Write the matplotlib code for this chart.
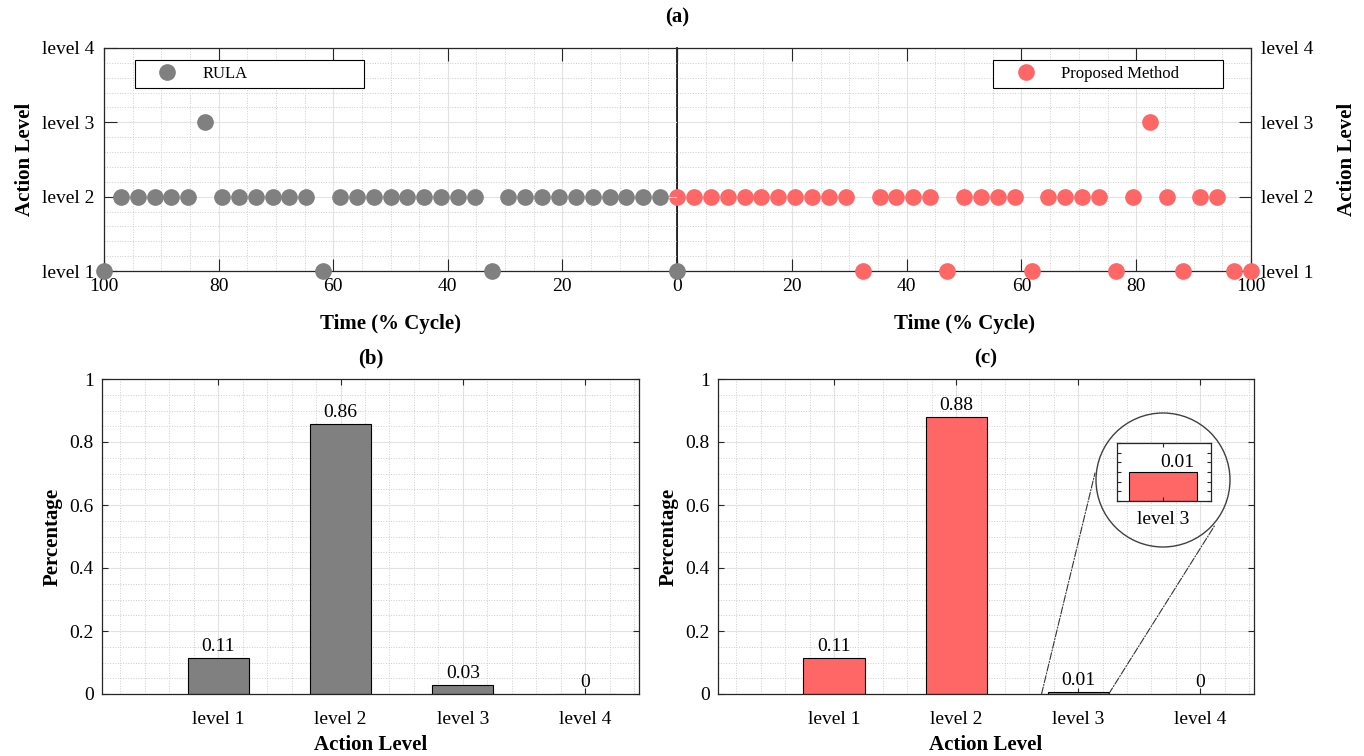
import matplotlib
matplotlib.use("Agg")
import matplotlib.pyplot as plt
from matplotlib.patches import Circle, ConnectionPatch
from matplotlib.ticker import MultipleLocator

plt.rcParams['font.family'] = ['Liberation Serif', 'DejaVu Serif']

# sampled cycle positions (% of cycle)
time_pct = [0, 2.94, 5.88, 8.82, 11.76, 14.71, 17.65, 20.59, 23.53, 26.47,
            29.41, 32.35, 35.29, 38.24, 41.18, 44.12, 47.06, 50.0, 52.94, 55.88,
            58.82, 61.76, 64.71, 67.65, 70.59, 73.53, 76.47, 79.41, 82.35, 85.29,
            88.24, 91.18, 94.12, 97.06, 100]
rula_level = [1, 2, 2, 2, 2, 2, 2, 2, 2, 2, 2, 1, 2, 2, 2, 2, 2, 2, 2, 2,
              2, 1, 2, 2, 2, 2, 2, 2, 3, 2, 2, 2, 2, 2, 1]
proposed_level = [2, 2, 2, 2, 2, 2, 2, 2, 2, 2, 2, 1, 2, 2, 2, 2, 1, 2, 2, 2,
                  2, 1, 2, 2, 2, 2, 1, 2, 3, 2, 1, 2, 2, 1, 1]

level_names = ['level 1', 'level 2', 'level 3', 'level 4']
rula_share = [0.114, 0.857, 0.029, 0.0]
proposed_share = [0.114, 0.88, 0.006, 0.0]

GRAY = '#808080'
RED = '#ff6666'
AXC = '#262626'
W, H = 1364, 756

fig = plt.figure(figsize=(W / 100, H / 100), dpi=100)


def px_axes(x0, y0, x1, y1):
    # axes box given in pixel coordinates of the final image
    return fig.add_axes([x0 / W, 1 - y1 / H, (x1 - x0) / W, (y1 - y0) / H])


def style(ax, ticklen):
    ax.set_axisbelow(True)
    ax.grid(True, which='major', color='#e2e2e2', lw=0.8)
    ax.grid(True, which='minor', color='#cdcdcd', lw=0.7, ls=':')
    ax.tick_params(which='major', direction='in', length=ticklen, width=0.8,
                   color=AXC, labelsize=14, top=True, right=True)
    ax.tick_params(which='minor', length=0)
    for s in ax.spines.values():
        s.set_color(AXC)
        s.set_linewidth(0.9)


def fmt(v):
    return '0' if v == 0 else f'{v:.2f}'


# ---- (a) time series ----
ax_l = px_axes(104, 48, 677, 271)
ax_r = px_axes(677, 48, 1251, 271)
for ax, lev, col, name in [(ax_l, rula_level, GRAY, 'RULA'),
                           (ax_r, proposed_level, RED, 'Proposed Method')]:
    style(ax, 9)
    ax.patch.set_alpha(0)
    ax.plot(time_pct, lev, 'o', ls='none', ms=11, color=col, mec=col,
            clip_on=False, zorder=3, label=name)
    ax.set_xlim(0, 100)
    ax.set_ylim(1, 4)
    ax.set_xticks(range(0, 101, 20))
    ax.xaxis.set_minor_locator(MultipleLocator(5))
    ax.set_yticks([1, 2, 3, 4])
    ax.set_yticklabels(level_names)
    ax.yaxis.set_minor_locator(MultipleLocator(0.2))
    ax.tick_params(axis='x', pad=5)
    ax.tick_params(axis='y', pad=7)
    ax.set_xlabel('Time (% Cycle)', fontsize=15, fontweight='bold', labelpad=14)
    ax.set_ylabel('Action Level', fontsize=15, fontweight='bold', labelpad=5)
    ax.legend(loc='upper left', mode='expand', borderaxespad=0, fontsize=12,
              fancybox=False, edgecolor='black', framealpha=1,
              handlelength=3.2, handletextpad=0.5,
              borderpad=0.35).get_frame().set_linewidth(0.8)

ax_l.set_zorder(1)
ax_l.invert_xaxis()
ax_l.tick_params(axis='y', right=False)
ax_l.spines['right'].set_visible(False)
ax_l.get_legend().set_bbox_to_anchor((0.054, 0.834, 0.399, 0.112),
                                     transform=ax_l.transAxes)

ax_r.set_xticklabels(['', '20', '40', '60', '80', '100'])
ax_r.yaxis.tick_right()
ax_r.tick_params(axis='y', left=False, right=True, labelleft=False, labelright=True)
ax_r.yaxis.set_label_position('right')
ax_r.set_ylabel('Action Level', fontsize=15, fontweight='bold', labelpad=17)
ax_r.spines['left'].set_color('black')
ax_r.spines['left'].set_linewidth(1.2)
ax_r.get_legend().set_bbox_to_anchor((0.551, 0.834, 0.4, 0.112),
                                     transform=ax_r.transAxes)

fig.text(677 / W, 1 - 17 / H, '(a)', ha='center', va='center',
         fontsize=15, fontweight='bold')

# ---- (b), (c) distributions ----
positions = list(range(1, len(level_names) + 1))
ax_b = px_axes(102, 379, 639, 694)
ax_c = px_axes(718, 379, 1254, 694)
for ax, share, col, ttl in [(ax_b, rula_share, GRAY, '(b)'),
                            (ax_c, proposed_share, RED, '(c)')]:
    style(ax, 4)
    ax.bar(positions, share, width=0.5, color=col, edgecolor='black', lw=0.8,
           zorder=2)
    for x, v in zip(positions, share):
        ax.annotate(fmt(v), (x, v), xytext=(0, 2), textcoords='offset points',
                    ha='center', va='bottom', fontsize=14)
    ax.set_xlim(0.05, 4.44)
    ax.set_ylim(0, 1)
    ax.set_xticks(positions)
    ax.set_xticklabels(level_names)
    ax.xaxis.set_minor_locator(MultipleLocator(0.2))
    ax.set_yticks([0, 0.2, 0.4, 0.6, 0.8, 1])
    ax.set_yticklabels(['0', '0.2', '0.4', '0.6', '0.8', '1'])
    ax.yaxis.set_minor_locator(MultipleLocator(0.05))
    ax.tick_params(axis='x', pad=12)
    ax.tick_params(axis='y', pad=6)
    ax.set_xlabel('Action Level', fontsize=15, fontweight='bold', labelpad=5)
    ax.set_ylabel('Percentage', fontsize=15, fontweight='bold', labelpad=5)
    ax.set_title(ttl, fontsize=15, fontweight='bold', pad=11)

# zoomed view of the tiny level 3 bar in (c)
ax_in = px_axes(1117, 443, 1211, 501)
ax_in.bar([positions[2]], [proposed_share[2]], width=0.5, color=RED,
          edgecolor='black', lw=0.8)
ax_in.annotate(fmt(proposed_share[2]), (positions[2] + 0.1, proposed_share[2]),
               xytext=(0, 1), textcoords='offset points', ha='center',
               va='bottom', fontsize=14)
ax_in.set_xlim(2.66, 3.35)
ax_in.set_ylim(0, 0.012)
ax_in.set_xticks([positions[2]])
ax_in.set_xticklabels([level_names[2]])
ax_in.yaxis.set_major_locator(MultipleLocator(0.002))
ax_in.tick_params(direction='in', length=3, width=0.8, color=AXC,
                  labelsize=14, left=True, right=True, top=True,
                  labelleft=False, pad=7)
for s in ax_in.spines.values():
    s.set_color(AXC)
    s.set_linewidth(0.9)

fig.add_artist(Circle((11.63, 2.76), 0.67, transform=fig.dpi_scale_trans,
                      fill=False, ec='#404040', lw=1))
for xa, xb in [((2.7, 0), (10.95, 2.83)), ((3.25, 0), (12.15, 2.31))]:
    fig.add_artist(ConnectionPatch(xyA=xa, coordsA=ax_c.transData,
                                   xyB=xb, coordsB=fig.dpi_scale_trans,
                                   ls='-.', color='#333333', lw=0.8))

fig.savefig('out.png', dpi=100)
